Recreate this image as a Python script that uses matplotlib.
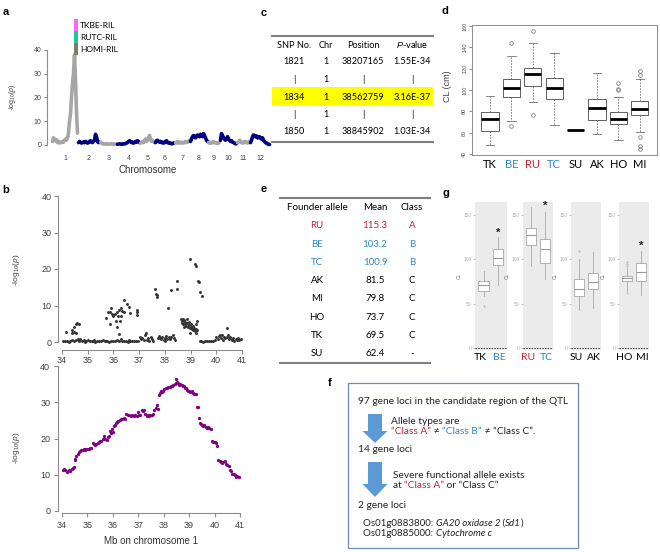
import numpy as np
import matplotlib
matplotlib.use('Agg')
import matplotlib.pyplot as plt
from matplotlib.patches import Rectangle, FancyArrow

plt.rcParams['font.family'] = ['Liberation Sans', 'DejaVu Sans']
plt.rcParams['mathtext.fontset'] = 'custom'
plt.rcParams['mathtext.rm'] = 'Liberation Sans'
plt.rcParams['mathtext.it'] = 'Liberation Sans:italic'

OFF = ['Lato', 'DejaVu Sans']
GRAY = '#A6A6A6'
NAVY = '#000080'
RED = '#C8202F'
BLUE = '#2E86C8'
PURPLE = '#800080'

# ---------------- data ----------------
# a: genome-wide scan, one list of -log10(p) per chromosome
chr_names = ['1', '2', '3', '4', '5', '6', '7', '8', '9', '10', '11', '12']
chr_len = [26, 22, 17, 23, 15, 20, 15, 18, 12, 17, 13, 20]
chr_logp = [
    [1.5, 3.0, 2.5, 1.8, 2.2, 1.0, 1.5, 0.8, 1.2, 1.0, 1.5, 1.2, 2.0, 2.5, 2.0, 3.0, 5.0, 10.0, 13.0, 20.0, 26.0, 30.0, 38.0, 27.0, 14.0, 5.0],
    [1.0, 1.5, 1.2, 0.8, 1.0, 1.3, 1.0, 1.5, 1.2, 0.8, 1.0, 1.5, 1.8, 1.2, 1.0, 1.5, 2.0, 4.5, 3.5, 1.5, 1.0, 1.2],
    [1.2, 0.8, 0.5, 0.6, 0.4, 0.5, 0.3, 0.5, 0.4, 0.3, 0.5, 0.6, 0.4, 0.3, 0.5, 0.4, 0.3],
    [0.3, 0.4, 0.5, 0.4, 0.3, 0.5, 0.4, 0.5, 0.6, 0.8, 1.0, 1.5, 1.8, 1.5, 1.0, 1.2, 0.8, 1.0, 1.5, 1.2, 1.8, 1.5, 1.0],
    [0.8, 1.0, 1.5, 1.0, 1.8, 2.5, 1.5, 2.0, 3.0, 4.0, 2.5, 1.5, 2.0, 1.5, 1.0],
    [1.0, 1.8, 2.0, 1.5, 1.2, 1.5, 1.0, 1.2, 0.8, 1.0, 1.5, 1.8, 1.2, 0.8, 1.0, 0.8, 0.5, 0.6, 0.8, 1.0],
    [1.0, 1.2, 0.8, 1.5, 1.0, 0.8, 1.2, 1.0, 0.8, 1.2, 1.5, 1.0, 1.2, 1.5, 2.0],
    [1.5, 2.5, 3.5, 4.0, 3.8, 3.0, 3.5, 4.2, 3.8, 3.5, 4.5, 4.0, 3.5, 4.8, 4.0, 3.0, 2.0, 1.5],
    [1.0, 0.8, 1.2, 0.8, 1.0, 1.5, 1.0, 0.8, 0.6, 1.0, 0.8, 1.2],
    [2.0, 4.8, 4.0, 3.0, 2.5, 2.0, 2.5, 3.5, 2.5, 2.0, 1.5, 1.8, 1.2, 1.0, 0.8, 0.5, 0.6],
    [1.0, 1.2, 2.0, 1.5, 1.0, 0.8, 1.2, 1.0, 1.5, 1.2, 0.8, 1.0, 1.5],
    [1.0, 2.0, 3.5, 4.2, 4.0, 3.5, 3.8, 3.0, 3.2, 3.5, 2.8, 2.5, 3.0, 2.0, 1.5, 1.0, 0.8, 0.5, 0.3, 0.2],
]
ril_names = ['TKBE-RIL', 'RUTC-RIL', 'HOMI-RIL']
ril_colors = ['#FF66FF', '#1FC4A0', '#7F7F60']

# b (upper): single-population scan on chr 1
b1_mb = [34.05, 34.12, 34.2, 34.26, 34.33, 34.4, 34.47, 34.55, 34.62, 34.7, 34.78, 34.85, 34.92, 35.0, 35.08,
         35.15, 35.22, 35.3, 35.38, 35.45, 35.52, 35.6, 35.68, 35.75, 35.82, 35.9, 35.98, 36.05, 36.12, 36.2,
         36.28, 36.35, 36.42, 36.5, 36.58, 36.65, 36.72, 36.8, 36.88, 36.95, 34.65, 34.9, 35.25, 35.7, 36.6,
         34.17, 34.38, 34.40, 34.46, 34.48, 34.53, 34.59, 34.66, 34.55,
         35.73, 35.79, 35.86, 35.92, 35.86, 35.99, 36.05, 36.09, 36.15, 36.18, 36.22, 36.25, 36.15, 36.20, 36.28,
         36.33, 36.41, 36.43, 36.51, 36.61, 36.64, 36.90, 36.93, 36.90, 36.0, 35.95, 36.3,
         37.26, 37.62, 37.65, 37.71, 37.68, 38.14, 38.23, 38.49, 38.49, 38.98, 39.18, 39.20, 39.27, 39.33, 39.37,
         39.44, 39.24,
         38.62, 38.66, 38.70, 38.72, 38.75, 38.78, 38.80, 38.83, 38.85, 38.88, 38.90, 38.93, 38.95, 38.98, 39.00,
         39.03, 39.05, 39.08, 39.10, 39.13, 39.16, 39.20, 39.22, 39.25, 38.68, 38.73, 38.97, 39.22,
         37.02, 37.08, 37.12, 37.18, 37.22, 37.3, 37.35, 37.4, 37.45, 37.5, 37.55,
         37.72, 37.78, 37.85, 37.9, 37.95, 38.0, 38.05, 38.1, 38.15, 38.2, 38.25, 38.3, 38.35, 38.4, 37.82, 38.02,
         39.35, 39.42, 39.5, 39.58, 39.65, 39.72, 39.8, 39.88, 39.95, 39.99,
         40.05, 40.1, 40.15, 40.2, 40.25, 40.3, 40.35, 40.41, 40.45, 40.5, 40.55, 40.6, 40.65, 40.7, 40.75, 40.8,
         40.85, 40.9, 40.95, 40.22, 40.42, 40.62]
b1_logp = [0.3, 0.2, 0.4, 0.1, 0.3, 0.5, 0.2, 0.6, 0.9, 0.8, 0.4, 0.6, 0.3, 0.5, 0.2,
           0.4, 0.3, 0.1, 0.4, 0.2, 0.3, 0.5, 0.2, 0.3, 0.1, 0.4, 0.2, 0.3, 0.5, 0.2,
           0.8, 0.3, 0.2, 0.4, 0.1, 0.3, 0.2, 0.4, 0.3, 0.2, 0.3, 0.1, 0.6, 0.4, 0.5,
           2.7, 2.4, 3.3, 4.0, 2.8, 4.8, 5.1, 4.8, 2.6,
           6.6, 8.1, 8.3, 9.3, 4.8, 7.5, 7.8, 5.7, 8.3, 7.2, 8.7, 5.7, 4.2, 2.1, 9.2,
           8.5, 8.1, 11.5, 10.3, 9.5, 7.9, 8.7, 8.1, 7.4, 7.0, 7.6, 7.0,
           2.6, 14.5, 13.2, 12.8, 12.4, 9.2, 14.2, 16.6, 14.5, 22.8, 21.5, 20.8, 16.6, 16.5, 13.7,
           12.6, 5.7,
           6.2, 5.8, 6.4, 5.0, 6.0, 4.8, 5.5, 4.4, 6.3, 5.2, 4.0, 4.6, 5.6, 3.8, 4.2,
           5.0, 3.5, 4.4, 3.2, 3.9, 3.0, 3.6, 4.8, 3.3, 5.3, 4.1, 2.4, 2.5,
           1.5, 0.8, 1.2, 0.5, 1.8, 0.6, 1.0, 0.4, 1.3, 0.7, 0.3,
           1.0, 1.6, 0.8, 1.4, 0.6, 1.2, 1.7, 0.9, 1.5, 0.7, 1.3, 1.8, 1.0, 0.5, 1.2, 0.4,
           0.2, 0.3, 0.1, 0.3, 0.2, 0.4, 0.2, 0.3, 0.5, 1.5,
           0.8, 1.6, 2.0, 1.2, 0.6, 1.5, 1.0, 3.9, 2.0, 0.8, 1.3, 0.5, 1.0, 0.4, 0.9, 0.6,
           1.2, 0.5, 0.8, 1.8, 1.4, 0.9]

# b (lower): joint scan on chr 1
b2_mb = [34.02, 34.08, 34.13, 34.18, 34.23, 34.28, 34.33, 34.38, 34.42, 34.46, 34.5, 34.53, 34.57, 34.61, 34.66,
         34.71, 34.76, 34.81, 34.86, 34.91, 34.96, 35.01, 35.06, 35.11, 35.16, 35.2, 35.25, 35.3, 35.35, 35.4,
         35.45, 35.5, 35.55, 35.6, 35.65, 35.7, 35.75, 35.8, 35.85, 35.9, 35.93, 35.97, 36.01, 36.05, 36.09,
         36.13, 36.17, 36.22, 36.27, 36.32, 36.37, 36.42, 36.47, 36.52, 36.58, 36.64, 36.7, 36.76, 36.82, 36.88,
         36.94, 36.99, 37.03, 37.08, 37.13, 37.18, 37.23, 37.28, 37.33, 37.38, 37.43, 37.48, 37.53, 37.58, 37.63,
         37.68, 37.73, 37.77, 37.8, 37.84, 37.88, 37.93, 37.98, 38.03, 38.08, 38.13, 38.18, 38.23, 38.28, 38.33,
         38.38, 38.43, 38.47, 38.5, 38.54, 38.58, 38.62, 38.66, 38.7, 38.74, 38.78, 38.82, 38.86, 38.9, 38.95,
         39.0, 39.05, 39.1, 39.15, 39.2, 39.25, 39.3, 39.33, 39.38, 39.42, 39.46, 39.5, 39.55, 39.6, 39.65,
         39.7, 39.75, 39.8, 39.85, 39.9, 39.95, 40.0, 40.05, 40.1, 40.15, 40.2, 40.25, 40.3, 40.35, 40.4,
         40.45, 40.5, 40.55, 40.6, 40.65, 40.7, 40.75, 40.8, 40.85, 40.9, 40.95]
b2_logp = [11.4, 11.6, 11.2, 10.8, 11.0, 11.3, 11.1, 11.5, 12.0, 12.2, 14.0, 14.3, 15.2, 15.8, 16.2,
           16.6, 16.9, 16.8, 17.0, 16.8, 17.0, 17.2, 17.0, 17.3, 17.5, 18.8, 18.5, 18.3, 18.6, 18.8,
           19.0, 19.2, 19.4, 19.8, 20.6, 20.0, 19.7, 20.3, 20.8, 22.0, 21.4, 22.5, 21.8, 23.4, 23.8,
           24.3, 24.6, 24.8, 25.2, 25.4, 25.3, 25.6, 25.5, 26.7, 26.5, 26.6, 26.2, 26.4, 26.2, 26.4,
           26.3, 27.3, 26.4, 26.6, 28.0, 27.6, 27.9, 26.8, 26.3, 26.4, 26.3, 26.5, 26.4, 26.8, 27.8,
           28.4, 29.3, 28.2, 32.0, 32.6, 33.0, 32.8, 33.2, 33.6, 33.8, 34.0, 34.2, 34.1, 34.5, 34.6,
           34.8, 35.0, 35.2, 36.4, 35.6, 35.2, 34.8, 35.1, 34.8, 34.4, 34.6, 34.0, 33.8, 33.4, 33.0,
           33.2, 32.9, 33.0, 32.6, 32.4, 32.2, 28.8, 28.7, 25.6, 24.4, 24.0, 23.8, 23.4, 23.6, 23.2,
           23.0, 23.3, 22.8, 22.5, 19.3, 19.0, 19.1, 18.8, 17.8, 14.2, 13.8, 13.6, 13.2, 13.5, 13.8,
           13.0, 12.6, 12.4, 11.3, 11.0, 10.3, 10.1, 9.8, 9.4, 9.7, 9.5]

# c: top SNPs
c_cols = ['SNP No.', 'Chr', 'Position', '$\\it{P}$-value']
c_rows = [['1821', '1', '38207165', '1.55E-34'],
          ['|', '1', '|', '|'],
          ['1834', '1', '38562759', '3.16E-37'],
          ['|', '1', '|', '|'],
          ['1850', '1', '38845902', '1.03E-34']]

# d: culm length by founder allele
d_names = ['TK', 'BE', 'RU', 'TC', 'SU', 'AK', 'HO', 'MI']
d_med = [73.2, 102.0, 115.0, 102.0, 62.8, 83.1, 73.2, 81.8]
d_q1 = [61.5, 93.5, 103.4, 91.7, 62.8, 71.4, 67.7, 76.3]
d_q3 = [79.4, 110.0, 120.6, 110.8, 62.8, 91.7, 79.4, 89.8]
d_lo = [48.6, 70.8, 88.6, 67.0, 62.8, 58.5, 52.9, 60.3]
d_hi = [94.7, 131.7, 144.0, 134.8, 62.8, 115.7, 93.0, 110.0]
d_out = [[], [144.0, 65.8], [155.7, 76.3], [], [], [], [106.5, 100.3, 100.9], [117.5, 114.5, 56.0, 47.4, 44.3]]

# e: allele means
e_allele = ['RU', 'BE', 'TC', 'AK', 'MI', 'HO', 'TK', 'SU']
e_mean = ['115.3', '103.2', '100.9', '81.5', '79.8', '73.7', '69.5', '62.4']
e_class = ['A', 'B', 'B', 'C', 'C', 'C', 'C', '-']

# g: paired RIL populations
g_pairs = [['TK', 'BE'], ['RU', 'TC'], ['SU', 'AK'], ['HO', 'MI']]
g_med = [[70.5, 101.0], [127.0, 111.4], [67.0, 74.2], [78.4, 86.0]]
g_q1 = [[64.8, 93.2], [116.2, 96.2], [58.3, 67.0], [75.3, 75.3]]
g_q3 = [[75.3, 111.4], [135.0, 122.7], [78.0, 84.8], [81.0, 95.4]]
g_lo = [[58.3, 71.6], [92.4, 77.3], [43.2, 45.0], [64.0, 60.2]]
g_hi = [[86.7, 125.0], [158.7, 153.0], [100.0, 108.3], [90.0, 109.0]]
g_out = [[[47.7], []], [[], []], [[109.5], []], [[62.0, 93.0, 95.0, 97.0], []]]
g_star = [[None, 130.0], [None, 160.5], [None, None], [None, 115.0]]

name_color = {'BE': BLUE, 'TC': BLUE, 'RU': RED}

# ---------------- figure ----------------
W, H = 660, 552
fig = plt.figure(figsize=(W / 100, H / 100), dpi=100)


def px_axes(x0, x1, y0, y1):
    return fig.add_axes([x0 / W, 1 - y1 / H, (x1 - x0) / W, (y1 - y0) / H])


def r_style(ax):
    for s in ['top', 'right']:
        ax.spines[s].set_visible(False)
    for s in ['left', 'bottom']:
        ax.spines[s].set_color('#8C8C8C')
        ax.spines[s].set_linewidth(0.8)
    ax.tick_params(colors='#8C8C8C', labelcolor='#404040', width=0.8, length=3)
    ax.patch.set_alpha(0)


YLAB = '-log$_{10}$($\\it{p}$)'

# panel a
axa = px_axes(52, 270, 50, 145)
off = 0
for i, vals in enumerate(chr_logp):
    xs = off + np.arange(len(vals)) + 0.5
    axa.plot(xs, vals, color=GRAY if i % 2 == 0 else NAVY, lw=2.6,
             solid_joinstyle='round', solid_capstyle='round', clip_on=False)
    off += chr_len[i]
centers = np.cumsum(chr_len) - np.array(chr_len) / 2
axa.set_xlim(0, sum(chr_len))
axa.set_ylim(0, 40)
r_style(axa)
axa.spines['bottom'].set_visible(False)
axa.spines['left'].set_position(('outward', 3.6))
axa.spines['left'].set_bounds(0, 40)
axa.set_yticks([0, 10, 20, 30, 40])
axa.set_xticks(centers)
axa.set_xticklabels(chr_names)
axa.tick_params(axis='y', labelsize=5, length=2.5, pad=1.5)
axa.tick_params(axis='x', labelsize=5, length=0, pad=7)

# panel b upper
axb1 = px_axes(62, 242, 196, 342)
axb1.scatter(b1_mb, b1_logp, s=4.5, color='#333333', lw=0, clip_on=False)
axb1.set_xlim(34, 41)
axb1.set_ylim(0, 40)
r_style(axb1)
axb1.spines['left'].set_position(('outward', 3))
axb1.spines['bottom'].set_position(('outward', 5.8))
axb1.spines['left'].set_bounds(0, 40)
axb1.set_xticks(range(34, 42))
axb1.set_yticks(range(0, 41, 10))
axb1.tick_params(labelsize=6.5, pad=1.5)

# panel b lower
axb2 = px_axes(62, 240, 366, 511)
axb2.scatter(b2_mb, b2_logp, s=5.5, color=PURPLE, lw=0, clip_on=False)
axb2.set_xlim(34, 41)
axb2.set_ylim(0, 40)
r_style(axb2)
axb2.spines['left'].set_position(('outward', 3))
axb2.spines['bottom'].set_position(('outward', 1.5))
axb2.spines['left'].set_bounds(0, 40)
axb2.set_xticks(range(34, 42))
axb2.set_yticks(range(0, 41, 10))
axb2.tick_params(labelsize=6.5, pad=2.5)

# panel d
axd = px_axes(472, 657, 25, 155)
d_stats = [dict(med=d_med[i], q1=d_q1[i], q3=d_q3[i], whislo=d_lo[i], whishi=d_hi[i],
                fliers=d_out[i]) for i in range(len(d_names))]
axd.bxp(d_stats, positions=range(1, 9), widths=0.8, patch_artist=True, capwidths=0.4,
        boxprops=dict(facecolor='white', edgecolor='#606060', lw=0.7),
        whiskerprops=dict(color='#707070', ls=(0, (2, 1.5)), lw=0.6),
        capprops=dict(color='#707070', lw=0.6),
        medianprops=dict(color='black', lw=2),
        flierprops=dict(marker='o', mfc='none', mec='#707070', ms=2.6, mew=0.5))
axd.set_xlim(0.16, 8.8)
axd.set_ylim(39, 161)
for s in axd.spines.values():
    s.set_color('#8C8C8C')
    s.set_linewidth(0.7)
axd.set_yticks(range(40, 161, 20))
axd.tick_params(axis='y', labelsize=4, colors='#8C8C8C', labelcolor='#505050', length=2.5, pad=1)
for lab in axd.get_yticklabels():
    lab.set_rotation(90)
    lab.set_va('center')
axd.set_xticks(range(1, 9))
axd.set_xticklabels(d_names, family=OFF, fontsize=8)
axd.tick_params(axis='x', length=0, pad=3)
for lab, n in zip(axd.get_xticklabels(), d_names):
    lab.set_color(name_color.get(n, 'black'))

# panel g
g_boxes = [(475, 507), (523, 553), (571, 601), (619, 649)]
for k, (x0, x1) in enumerate(g_boxes):
    ax = px_axes(x0, x1, 202, 350)
    ax.set_facecolor('#EBEBEB')
    st = [dict(med=g_med[k][j], q1=g_q1[k][j], q3=g_q3[k][j], whislo=g_lo[k][j],
               whishi=g_hi[k][j], fliers=g_out[k][j]) for j in range(2)]
    ax.bxp(st, positions=[1, 2], widths=0.72, patch_artist=True, capwidths=0,
           boxprops=dict(facecolor='white', edgecolor='#A8A8A8', lw=0.6),
           whiskerprops=dict(color='#A8A8A8', lw=0.6),
           capprops=dict(lw=0),
           medianprops=dict(color='#999999', lw=0.8),
           flierprops=dict(marker='o', mfc='#BBBBBB', mec='none', ms=1.5))
    ax.axhline(0, color='#333333', lw=0.6, ls=(0, (2, 1.2)))
    for j in range(2):
        if g_star[k][j] is not None:
            ax.text(j + 1, g_star[k][j], '*', ha='center', va='center', fontsize=8,
                    fontweight='bold', color='#222222')
    ax.set_xlim(0.42, 2.6)
    ax.set_ylim(-2.3, 164.7)
    for s in ax.spines.values():
        s.set_visible(False)
    ax.set_yticks([0, 50, 100, 150])
    ax.tick_params(axis='y', labelsize=3.5, colors='#AAAAAA', labelcolor='#AAAAAA', length=1.5, pad=1, width=0.5)
    ax.set_ylabel('CL', fontsize=3.5, color='#777777', labelpad=1)
    # category names sit a little wider apart than the boxes
    ax.set_xticks([0.8, 2.1])
    ax.set_xticklabels(g_pairs[k], family=OFF, fontsize=7.5)
    ax.tick_params(axis='x', length=0, pad=2)
    for lab, n in zip(ax.get_xticklabels(), g_pairs[k]):
        lab.set_color(name_color.get(n, 'black'))

# overlay for labels, tables and the flow chart (pixel coordinates)
ov = fig.add_axes([0, 0, 1, 1])
ov.set_xlim(0, W)
ov.set_ylim(H, 0)
ov.axis('off')
ov.patch.set_alpha(0)

for lab, (x, y) in zip('abcdefg', [(6, 12), (6, 190), (264, 13), (445, 11), (264, 189), (330, 383), (446, 193)]):
    ov.text(x, y, lab, fontsize=8, fontweight='bold', ha='center', va='center')

# a: labels and RIL legend
ov.text(148, 170, 'Chromosome', fontsize=7, ha='center', va='center', color='#333333')
ov.text(13, 97, YLAB, fontsize=5, rotation=90, ha='center', va='center', color='#404040')
for i, (nm, c) in enumerate(zip(ril_names, ril_colors)):
    ov.add_patch(Rectangle((74, 19 + i * 12), 4, 12, color=c, lw=0))
    ov.text(80, 25 + i * 12.3, nm, fontsize=6, family=OFF, ha='left', va='center')

# b: labels
ov.text(17, 270, YLAB, fontsize=6, rotation=90, ha='center', va='center', color='#404040')
ov.text(17, 448, YLAB, fontsize=6, rotation=90, ha='center', va='center', color='#404040')
ov.text(151, 541, 'Mb on chromosome 1', fontsize=7, ha='center', va='center', color='#333333')

# c: table
c_x = [294, 326, 363, 412]
c_y = [62, 79.5, 97, 114.5, 132]
ov.add_patch(Rectangle((272, 87), 161, 19, color='#FFFF00', lw=0))
ov.plot([272, 433], [36, 36], color='#808080', lw=1.5)
ov.plot([272, 433], [142, 142], color='#808080', lw=1.5)
for x, t in zip(c_x, c_cols):
    ov.text(x, 45, t, fontsize=6.6, family=OFF, ha='center', va='center')
for y, row in zip(c_y, c_rows):
    for x, t in zip(c_x, row):
        ov.text(x, y, t, fontsize=6.6, family=OFF, ha='center', va='center')

# d: y label
ov.text(448, 86, 'CL (cm)', fontsize=6.5, rotation=90, ha='center', va='center', color='#404040')

# e: table
e_x = [317, 375, 412]
ov.plot([280, 430], [198, 198], color='#808080', lw=1.5)
ov.plot([280, 430], [363, 363], color='#808080', lw=1.5)
for x, t in zip(e_x, ['Founder allele', 'Mean', 'Class']):
    ov.text(x, 208, t, fontsize=7, family=OFF, ha='center', va='center')
for i in range(len(e_allele)):
    y = 226 + i * 18.2
    c = name_color.get(e_allele[i], 'black')
    for x, t in zip(e_x, [e_allele[i], e_mean[i], e_class[i]]):
        ov.text(x, y, t, fontsize=7, family=OFF, ha='center', va='center', color=c)

# f: flow chart
rend = fig.canvas.get_renderer()


def seg_width(s, **kw):
    t1 = ov.text(0, 0, '|' + s + '|', **kw)
    t2 = ov.text(0, 0, '||', **kw)
    w = t1.get_window_extent(rend).width - t2.get_window_extent(rend).width
    t1.remove()
    t2.remove()
    return w


def seq_text(x, y, parts, size=7.3):
    for s, c, st in parts:
        kw = dict(fontsize=size, family=OFF, style=st, color=c)
        ov.text(x, y, s, ha='left', va='center', **kw)
        x += seg_width(s, **kw)


ov.add_patch(Rectangle((348, 383), 230, 165, fill=False, edgecolor='#6D8BB0', lw=0.9))
K = '#222222'
seq_text(358, 401, [('97 gene loci in the candidate region of the QTL', K, 'normal')])
ov.add_patch(FancyArrow(375, 414, 0, 29, width=14, head_width=25, head_length=12,
                        length_includes_head=True, color='#5B9BD5', lw=0))
seq_text(391, 421, [('Allele types are', K, 'normal')])
seq_text(391, 431, [('\u201cClass A\u201d', RED, 'normal'), (' \u2260 ', K, 'normal'),
                    ('\u201cClass B\u201d', BLUE, 'normal'), (' \u2260 \u201cClass C\u201d.', K, 'normal')])
seq_text(358, 449, [('14 gene loci', K, 'normal')])
ov.add_patch(FancyArrow(375, 462, 0, 35, width=14, head_width=25, head_length=13,
                        length_includes_head=True, color='#5B9BD5', lw=0))
seq_text(393, 475, [('Severe functional allele exists', K, 'normal')])
seq_text(393, 485, [('at ', K, 'normal'), ('\u201cClass A\u201d', RED, 'normal'),
                    (' or \u201cClass C\u201d', K, 'normal')])
seq_text(358, 506, [('2 gene loci', K, 'normal')])
seq_text(363, 523, [('Os01g0883800: ', K, 'normal'), ('GA20 oxidase 2', K, 'italic'),
                    (' (', K, 'normal'), ('Sd1', K, 'italic'), (')', K, 'normal')], size=7)
seq_text(363, 533, [('Os01g0885000: ', K, 'normal'), ('Cytochrome c', K, 'italic')], size=7)

fig.savefig('out.png', dpi=100)
